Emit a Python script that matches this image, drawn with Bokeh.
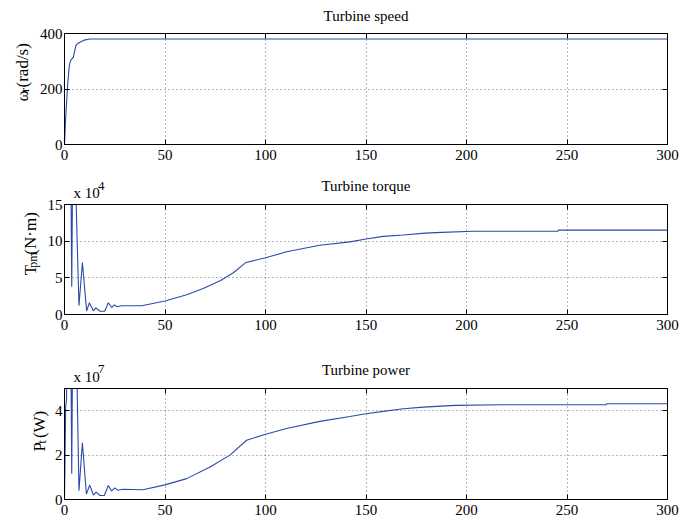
import math
from bokeh.plotting import figure
from bokeh.models import FixedTicker, LinearAxis, ColumnDataSource, CustomLabelingPolicy
from bokeh.core.properties import value
from bokeh.layouts import column, row
from bokeh.embed import file_html
from bokeh.resources import INLINE

# ---------------- data ----------------
speed_t = [0, 0.6, 1.6, 2.4, 3.1, 4.4, 5.7, 6.9, 9.7, 12.7, 300]
speed_w = [0, 99, 219, 285, 303, 315, 357, 366, 376, 380, 380]

torque_t = [0, 3.2, 3.6, 4.0, 5.5, 7.2, 8.9, 11.0, 12.4, 14.3, 15.6, 17.7, 20.0,
            21.8, 23.5, 24.8, 26.2, 28.3, 38.4, 50, 60.8, 69, 77.4, 84, 90.3,
            99.6, 110.5, 127, 142, 150, 158.6, 168.6, 179.4, 187.7, 203.4,
            245.5, 245.7, 300]
torque_v = [25, 18, 3.8, 18, 18, 1.2, 7.1, 0.5, 1.6, 0.5, 0.9, 0.45, 0.45,
            1.6, 0.95, 1.3, 1.05, 1.2, 1.2, 1.83, 2.7, 3.55, 4.6, 5.7, 7.1,
            7.7, 8.55, 9.45, 9.9, 10.3, 10.65, 10.85, 11.1, 11.2, 11.35,
            11.35, 11.5, 11.5]

power_t = [0, 0.6, 1.0, 1.6, 3.0, 3.6, 4.2, 5.5, 7.2, 8.9, 10.9, 12.5, 14.4,
           15.7, 17.7, 19.8, 21.8, 23.4, 25.0, 26.5, 29, 39, 50, 60.8, 72.4,
           82.3, 90.6, 99.6, 110.5, 127, 142, 150, 158.6, 168.6, 178.6,
           194.3, 217.5, 269.6, 269.8, 300]
power_v = [0, 4.2, 4.5, 9, 9, 1.16, 9, 9, 0.4, 2.55, 0.24, 0.65, 0.2,
           0.33, 0.18, 0.18, 0.63, 0.38, 0.52, 0.42, 0.46, 0.44, 0.66, 0.94, 1.46,
           2.0, 2.67, 2.93, 3.2, 3.52, 3.74, 3.86, 3.97, 4.09, 4.16,
           4.24, 4.27, 4.27, 4.31, 4.31]

x_ticks = [0, 50, 100, 150, 200, 250, 300]
titles = ["Turbine speed", "Turbine torque", "Turbine power"]
y_ranges = [(0, 400), (0, 15), (0, 5)]
y_ticks = [[0, 200, 400], [0, 5, 10, 15], [0, 2, 4]]
exponents = [None, "4", "7"]
# y-label pieces: (main symbol, subscript, unit)
ylabels = [("ω", "r", "(rad/s)"), ("T", "pm", "(N·m)"), ("P", "t", "(W)")]

FONT = "Liberation Serif"
LINE = "#2b4aa8"
W = 686


def blank(width, height):
    f = figure(width=width, height=height, x_range=(0, width), y_range=(0, height),
               output_backend="svg", toolbar_location=None, title=None,
               min_border=0, outline_line_color=None)
    f.axis.visible = False
    f.grid.visible = False
    f.background_fill_color = "white"
    f.border_fill_color = "white"
    return f


def txt(f, x, y, s, size, angle=0.0, align="left"):
    f.text(x=[x], y=[y], text=[s], angle=angle, text_font=value(FONT),
           text_font_size=value(size), text_color="black", text_align=align,
           text_baseline="alphabetic")


def tick_only_axis(ticks):
    return LinearAxis(ticker=FixedTicker(ticks=ticks), major_label_text_font_size="0px",
                      major_label_text_color=None,
                      major_label_policy=CustomLabelingPolicy(code="return []"),
                      major_tick_in=5, major_tick_out=0,
                      minor_tick_in=0, minor_tick_out=0, minor_tick_line_color=None,
                      major_label_standoff=0, axis_line_color="black")


def main_plot(idx, t, v, width, height, left, top, bottom):
    p = figure(width=width, height=height, x_range=(0, 300), y_range=y_ranges[idx],
               output_backend="svg", toolbar_location=None, title=None,
               min_border_left=left, min_border_right=19,
               min_border_top=top, min_border_bottom=bottom)
    p.outline_line_color = "black"
    p.outline_line_alpha = 1
    p.background_fill_color = "white"
    p.border_fill_color = "white"

    for ax in [p.xaxis[0], p.yaxis[0]]:
        ax.major_tick_in = 5
        ax.major_tick_out = 0
        ax.minor_tick_in = 0
        ax.minor_tick_out = 0
        ax.minor_tick_line_color = None
        ax.axis_line_color = "black"
        ax.major_tick_line_color = "black"
        ax.major_label_text_font = FONT
        ax.major_label_text_font_size = "15px"
        ax.major_label_text_color = "black"
    p.xaxis[0].major_label_standoff = 5
    p.yaxis[0].major_label_standoff = 2
    p.xaxis[0].ticker = FixedTicker(ticks=x_ticks)
    p.yaxis[0].ticker = FixedTicker(ticks=y_ticks[idx])

    p.add_layout(tick_only_axis(y_ticks[idx]), "right")
    p.add_layout(tick_only_axis(x_ticks), "above")

    for g in [p.xgrid[0], p.ygrid[0]]:
        g.grid_line_color = "black"
        g.grid_line_alpha = 0.55
        g.grid_line_dash = "1 3"
        g.grid_line_width = 1
    p.xgrid[0].ticker = FixedTicker(ticks=x_ticks)
    p.ygrid[0].ticker = FixedTicker(ticks=y_ticks[idx])

    src = ColumnDataSource(dict(t=t, v=v))
    p.line("t", "v", source=src, line_color=LINE, line_width=1.1)
    return p


# layout geometry (page pixels)
hdr_h = [27, 24, 24]
row_h = [147, 160, 141]
lab_w = [34, 42, 50]
tops = [6, 6, 6]
bottoms = [30, 44, 24]
series = [(speed_t, speed_w), (torque_t, torque_v), (power_t, power_v)]

title_y = [12, 13, 13]
expo_base_y = [0, 6, 6]
expo_sup_y = [0, 13, 14]
# ylabel placements: (x baseline, y start main, sub x, sub y start, unit y start)
ylab_pos = [
    (22, 57, 24.5, 69.5, 75.5),
    (30, 57, 32.5, 68, 87),
    (39, 61, 41.5, 71, 78),
]

blocks = []
for i in range(3):
    hdr = blank(W, hdr_h[i])
    txt(hdr, 365.5, title_y[i], titles[i], "15px", align="center")
    if exponents[i]:
        txt(hdr, 73, expo_base_y[i], "x 10", "15px")
        txt(hdr, 97.5, expo_sup_y[i], exponents[i], "13px")

    lab = blank(lab_w[i], row_h[i])
    xb, ym, xs, ys, yu = ylab_pos[i]
    main_sym, sub, unit = ylabels[i]
    txt(lab, xb, ym, main_sym, "17px", angle=math.pi / 2)
    txt(lab, xs, ys, sub, "12px", angle=math.pi / 2)
    txt(lab, xb, yu, unit, "17px", angle=math.pi / 2)

    mp = main_plot(i, series[i][0], series[i][1], W - lab_w[i], row_h[i],
                   64 - lab_w[i], tops[i], bottoms[i])
    blocks.append(hdr)
    blocks.append(row(lab, mp, spacing=0))

layout = column(*blocks, spacing=0)
open("out.html", "w").write(file_html(layout, INLINE))
